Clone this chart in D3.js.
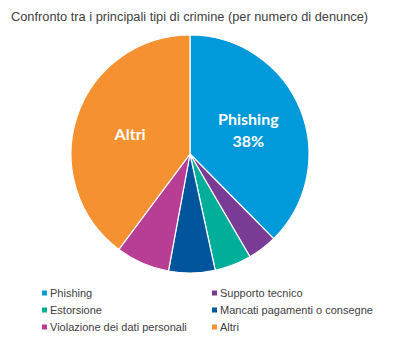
<!DOCTYPE html>
<html><head><meta charset="utf-8">
<script src="https://cdn.jsdelivr.net/npm/d3@7"></script>
<style>body{margin:0;background:#fff}svg{display:block}</style>
</head><body>
<svg id="c" width="397" height="346"></svg>
<script>
const title = "Confronto tra i principali tipi di crimine (per numero di denunce)";
const categories = ["Phishing","Supporto tecnico","Estorsione","Mancati pagamenti o consegne","Violazione dei dati personali","Altri"];
const values = [37.6, 4.0, 5.0, 6.3, 7.3, 39.8];
const colors = ["#0099DA","#7A3B96","#00AE9A","#00559C","#B73E94","#F69131"];
const sliceLabels = ["Phishing\n38%","","","","","Altri"];

const svg = d3.select("#c");
svg.append("text").attr("x",11).attr("y",21).attr("font-family","Liberation Sans, Arial, sans-serif")
  .attr("font-size",12.8).attr("fill","#404040").text(title);

const cx=190, cy=154, r=119;
const pie = d3.pie().sort(null).value(d=>d)(values);
const arc = d3.arc().innerRadius(0).outerRadius(r);
const g = svg.append("g").attr("transform",`translate(${cx},${cy})`);
g.selectAll("path").data(pie).join("path").attr("d",arc)
  .attr("fill",(d,i)=>colors[i]).attr("stroke","#fff").attr("stroke-width",1.2);

const labelArc = d3.arc().innerRadius(r*0.53).outerRadius(r*0.53);
pie.forEach((d,i)=>{
  if(!sliceLabels[i]) return;
  const [x,y] = labelArc.centroid(d);
  const lines = sliceLabels[i].split("\n");
  const t = g.append("text").attr("text-anchor","middle").attr("font-family","Lato, Open Sans, sans-serif")
    .attr("font-weight","bold").attr("font-size",16).attr("fill","#fff");
  lines.forEach((l,k)=>{
    t.append("tspan").attr("x",x).attr("y",y + (k-(lines.length-1)/2)*21.5 + 6).text(l);
  });
});

const legX=[42,212], legY=[293,310,327];
categories.forEach((c,i)=>{
  const x=legX[i%2], y=legY[Math.floor(i/2)];
  svg.append("rect").attr("x",x).attr("y",y-2.5).attr("width",5).attr("height",5).attr("fill",colors[i]);
  svg.append("text").attr("x",x+8).attr("y",y+4).attr("font-family","Liberation Sans, Arial, sans-serif")
    .attr("font-size",11).attr("fill","#404040").text(c);
});
</script>
</body></html>
